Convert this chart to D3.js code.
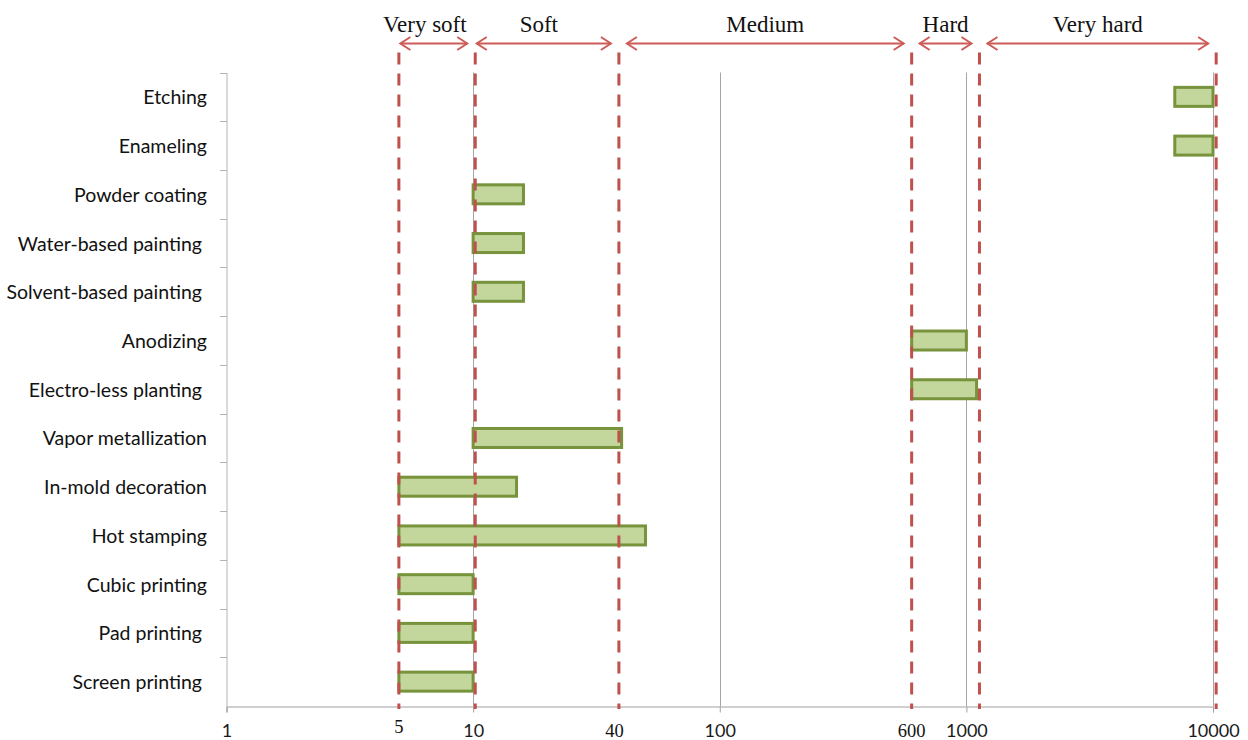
<!DOCTYPE html>
<html>
<head>
<meta charset="utf-8">
<script src="https://cdn.jsdelivr.net/npm/d3@7"></script>
<style>
  html, body { margin: 0; padding: 0; background: #fff; }
  svg { display: block; }
  text { white-space: pre; }
</style>
</head>
<body>
<svg id="chart" width="1248" height="740"></svg>
<script>
// ---- data ----
const categories = ["Etching", "Enameling", "Powder coating", "Water-based painting ", "Solvent-based painting ",
  "Anodizing", "Electro-less planting ", "Vapor metallization", "In-mold decoration", "Hot stamping",
  "Cubic printing", "Pad printing ", "Screen printing "];
const startValues = [7000, 7000, 10, 10, 10, 600, 600, 10, 5, 5, 5, 5, 5];
const endValues   = [10000, 10000, 16, 16, 16, 1000, 1100, 40, 15, 50, 10, 10, 10];
const tickValues = [1, 10, 100, 1000, 10000];
const tickLabels = ["1", "10", "100", "1000", "10000"];
const markerValues = [5, 40, 600];
const markerLabels = ["5", "40", "600"];
const zoneNames = ["Very soft", "Soft", "Medium", "Hard", "Very hard"];
const zoneBounds = [5, 10.2, 39, 600, 1130, 10300];

// ---- layout ----
const svg = d3.select("#chart");
const plotTop = 72.5, plotBottom = 706, plotLeft = 226.5, plotRight = 1213;

const x = d3.scaleLog().domain([1, 10000]).range([plotLeft, plotRight]);
const y = d3.scaleBand().domain(categories).range([plotTop, plotBottom]).paddingInner(0).paddingOuter(0);
const barH = 19;

// gridlines
svg.append("g").selectAll("line").data(tickValues.slice(1)).join("line")
  .attr("x1", d => Math.round(x(d)) + 0.5).attr("x2", d => Math.round(x(d)) + 0.5)
  .attr("y1", plotTop).attr("y2", plotBottom)
  .attr("stroke", "#a6a6a6").attr("stroke-width", 1);

// x axis
const xAxis = d3.axisBottom(x).tickValues(tickValues).tickSize(6).tickFormat((d, i) => tickLabels[i]);
const gx = svg.append("g").attr("transform", `translate(0,${Math.round(plotBottom) + 0.5})`).call(xAxis);
gx.select(".domain").attr("stroke", "#a0a0a0");
gx.selectAll(".tick line").attr("stroke", "#a0a0a0");
gx.selectAll(".tick text").attr("font-family", "Lato, 'Open Sans', sans-serif").attr("font-size", 18)
  .attr("fill", "#1a1a1a").attr("dy", null).attr("y", 30);

// y axis
const yAxis = d3.axisLeft(y).tickSize(0).tickFormat("");
const gy = svg.append("g").attr("transform", `translate(${Math.round(plotLeft) - 0.5},0)`).call(yAxis);
gy.select(".domain").attr("stroke", "#b4b4b4");
// y-axis band tick marks
svg.append("g").selectAll("line").data(categories).join("line")
  .attr("x1", Math.round(plotLeft) - 7).attr("x2", Math.round(plotLeft))
  .attr("y1", d => Math.round(y(d)) + 0.5).attr("y2", d => Math.round(y(d)) + 0.5)
  .attr("stroke", "#b4b4b4");

// category labels
svg.append("g").selectAll("text").data(categories).join("text")
  .attr("x", 207).attr("y", d => y(d) + y.bandwidth() / 2 + 7.5)
  .attr("text-anchor", "end")
  .attr("font-family", "Lato, 'Open Sans', sans-serif").attr("font-size", 19.5)
  .attr("fill", "#111")
  .text(d => d);

// bars
svg.append("g").selectAll("rect").data(categories).join("rect")
  .attr("x", (d, i) => x(startValues[i]))
  .attr("width", (d, i) => x(endValues[i]) - x(startValues[i]))
  .attr("y", d => y(d) + (y.bandwidth() - barH) / 2)
  .attr("height", barH)
  .attr("fill", "#c3d69b").attr("stroke", "#77933c").attr("stroke-width", 3);

// red dashed boundary lines
svg.append("g").selectAll("line").data(zoneBounds).join("line")
  .attr("x1", d => x(d)).attr("x2", d => x(d))
  .attr("y1", 52.5).attr("y2", 709)
  .attr("stroke", "#c0504d").attr("stroke-width", 3)
  .attr("stroke-dasharray", "12,9");

// zone arrows + labels
const arrowY = 43.5;
const arrowColor = "#cd5b57";
const zones = zoneNames.map((name, i) => {
  const gapL = i < 2 ? 1.5 : 8;
  return { name, x0: x(zoneBounds[i]) + gapL, x1: x(zoneBounds[i + 1]) - 8 };
});
const gz = svg.append("g");
gz.selectAll("line").data(zones).join("line")
  .attr("x1", d => d.x0).attr("x2", d => d.x1).attr("y1", arrowY).attr("y2", arrowY)
  .attr("stroke", arrowColor).attr("stroke-width", 2);
gz.selectAll("path.l").data(zones).join("path").attr("class", "l")
  .attr("d", d => `M${d.x0 + 10},${arrowY - 6.5}L${d.x0},${arrowY}L${d.x0 + 10},${arrowY + 6.5}`)
  .attr("fill", "none").attr("stroke", arrowColor).attr("stroke-width", 2);
gz.selectAll("path.r").data(zones).join("path").attr("class", "r")
  .attr("d", d => `M${d.x1 - 10},${arrowY - 6.5}L${d.x1},${arrowY}L${d.x1 - 10},${arrowY + 6.5}`)
  .attr("fill", "none").attr("stroke", arrowColor).attr("stroke-width", 2);
gz.selectAll("text").data(zones).join("text")
  .attr("x", (d, i) => (d.x0 + d.x1) / 2 + (i === 0 ? -9 : i === 1 ? -5 : 0))
  .attr("y", 31.5)
  .attr("text-anchor", "middle")
  .attr("font-family", "'Liberation Serif', 'Times New Roman', serif").attr("font-size", 23)
  .attr("fill", "#111")
  .text(d => d.name);

// serif marker labels under axis
svg.append("g").selectAll("text").data(markerValues).join("text")
  .attr("x", (d, i) => x(d) + (i === 1 ? -7 : 0))
  .attr("y", (d, i) => i === 0 ? 733 : 737)
  .attr("text-anchor", "middle")
  .attr("font-family", "'Liberation Serif', 'Times New Roman', serif").attr("font-size", 18.5)
  .attr("fill", "#111")
  .text((d, i) => markerLabels[i]);
</script>
</body>
</html>
